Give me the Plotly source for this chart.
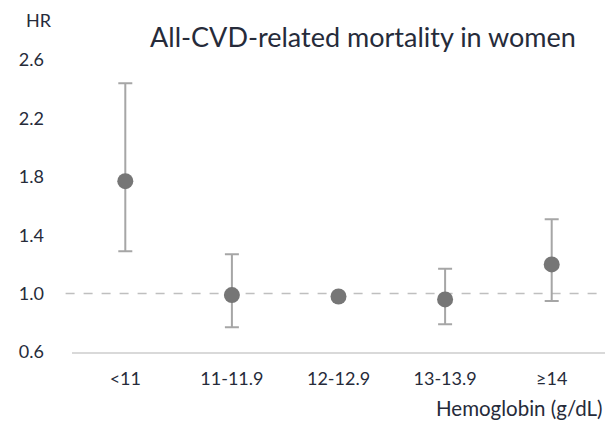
import plotly.graph_objects as go

categories = ["<11", "11-11.9", "12-12.9", "13-13.9", "≥14"]
hr = [1.77, 0.99, 0.98, 0.96, 1.20]
upper = [2.44, 1.27, None, 1.17, 1.51]
lower = [1.29, 0.77, None, 0.79, 0.95]
yticks = [0.6, 1.0, 1.4, 1.8, 2.2, 2.6]
reference_hr = 1.0

err_plus = [(u - h) if u is not None else 0 for u, h in zip(upper, hr)]
err_minus = [(h - l) if l is not None else 0 for l, h in zip(lower, hr)]

font_family = "Lato, Open Sans, sans-serif"
txt = "#262b3a"

fig = go.Figure()
fig.add_shape(type="line", xref="paper", yref="y", x0=-0.012, x1=1.0,
              y0=reference_hr, y1=reference_hr,
              line=dict(color="#bfbfbf", width=1.5, dash="dash"), layer="below")
fig.add_trace(go.Scatter(
    x=categories, y=hr, mode="markers",
    marker=dict(size=16, color="#767676"),
    error_y=dict(type="data", symmetric=False, array=err_plus, arrayminus=err_minus,
                 color="#a6a6a6", thickness=2, width=7),
    showlegend=False,
))

fig.update_layout(
    width=607, height=422,
    margin=dict(l=72, r=2, t=60, b=70),
    plot_bgcolor="white", paper_bgcolor="white",
    font=dict(family=font_family, size=18, color=txt),
    title=dict(text="All-CVD-related mortality in women", x=0.598, xanchor="center",
               y=0.91, yanchor="middle", font=dict(size=27, color=txt)),
)
fig.update_xaxes(range=[-0.5, 4.5], showline=True, linecolor="#d9d9d9", linewidth=1.5,
                 ticks="", showgrid=False, ticklabelstandoff=10, tickfont=dict(size=18))
fig.update_yaxes(range=[0.6, 2.6], tickvals=yticks, ticktext=[f"{v:.1f}" for v in yticks],
                 showgrid=False, zeroline=False, showline=False, ticks="",
                 ticklabelstandoff=27, tickfont=dict(size=18))

fig.add_annotation(text="HR", xref="paper", yref="paper", x=-0.034, y=1.137,
                   xanchor="right", yanchor="middle", showarrow=False, font=dict(size=18))
fig.add_annotation(text="Hemoglobin (g/dL)", xref="paper", yref="paper", x=1.0, y=-0.192,
                   xanchor="right", yanchor="middle", showarrow=False, font=dict(size=20.5))

fig.write_html("out.html")
